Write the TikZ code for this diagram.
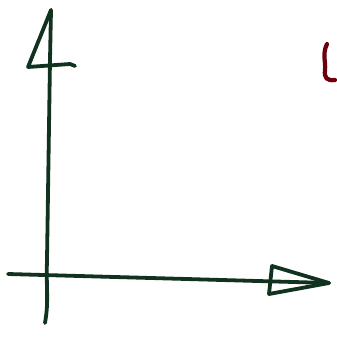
\documentclass[tikz,border=0pt]{standalone}
\definecolor{axisgreen}{RGB}{18,50,32}
\definecolor{inkred}{RGB}{110,0,14}
\begin{document}
\begin{tikzpicture}[x=1pt,y=-1pt,
  axis/.style={draw=axisgreen,line width=3.8pt,line cap=round,line join=round},
  redink/.style={draw=inkred,line width=4.2pt,line cap=round}]
\useasboundingbox[fill=white] (0,0) rectangle (337,338);
% vertical axis
\coordinate (vb) at (45,323);
\coordinate (vt) at (51,10);
\draw[axis] (vb) .. controls (49,300) and (46,290) .. (47,260) -- (50,60) -- (vt);
\draw[axis] (vt) -- (28,67) -- (70,64) -- (75,66);
% horizontal axis
\coordinate (hl) at (8,274);
\coordinate (hr) at (329,283);
\draw[axis] (hl) -- (hr);
\draw[axis] (hr) -- (272,266) -- (269,294) -- cycle;
% red mark
\draw[redink] (327,44) .. controls (322,54) and (326,62) .. (325,70) .. controls (324,78) and (327,81) .. (335,80);
\end{tikzpicture}
\end{document}
